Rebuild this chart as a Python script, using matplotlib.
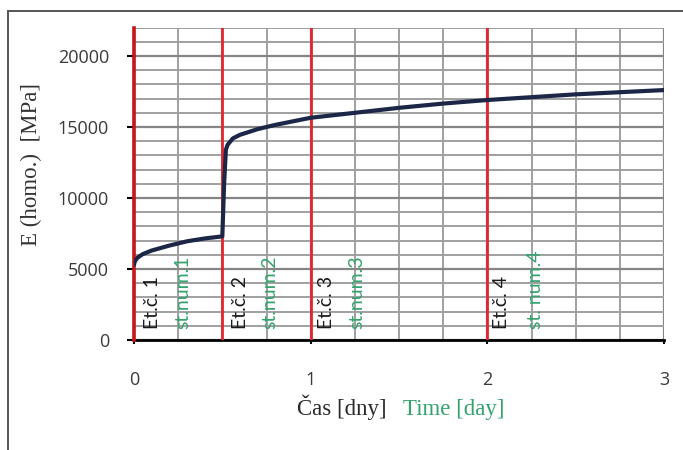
import matplotlib
matplotlib.use("Agg")
import matplotlib.pyplot as plt
from matplotlib.patches import Rectangle
from matplotlib.ticker import MultipleLocator

# Time (days) and homogenised modulus E (MPa)
time_days = [0.0, 0.005, 0.02, 0.05, 0.1, 0.2, 0.3, 0.4, 0.5,
             0.51, 0.52, 0.53, 0.56, 0.6, 0.7, 0.8, 1.0, 1.25, 1.5,
             1.75, 2.0, 2.25, 2.5, 2.75, 3.0]
modulus_mpa = [5300, 5550, 5800, 6050, 6300, 6650, 6950, 7150, 7300,
               11000, 13400, 13750, 14200, 14450, 14850, 15150, 15650, 16000, 16350,
               16650, 16900, 17100, 17300, 17450, 17600]

# Construction stages (red markers) and their labels
stage_times = [0.0, 0.5, 1.0, 2.0]
stage_labels = ["Et.č. 1", "Et.č. 2", "Et.č. 3", "Et.č. 4"]
stage_label_x = [0.107, 0.60, 1.09, 2.08]
num_labels = ["st.num.1", "st.num.2", "st.num.3", "st. num.4"]
num_label_x = [0.277, 0.77, 1.26, 2.27]

x_ticks = [0, 1, 2, 3]
y_ticks = [0, 5000, 10000, 15000, 20000]

GREEN = "#33a36c"
RED = "#e3262b"

fig = plt.figure(figsize=(6.83, 4.5), dpi=100)
W, H = 683, 450

def fx(px):
    return px / W

def fy(py):
    return 1 - py / H

# outer frame
fig.patches.append(Rectangle((fx(8), fy(470)), 1.2, fy(11) - fy(470),
                             transform=fig.transFigure, fill=False,
                             edgecolor="#555555", linewidth=1.4))

ax = fig.add_axes([fx(134), fy(340), fx(664) - fx(134), fy(27.6) - fy(340)])
ax.set_xlim(0, 3)
ax.set_ylim(0, 22000)

# grid
ax.xaxis.set_minor_locator(MultipleLocator(0.25))
ax.yaxis.set_minor_locator(MultipleLocator(1000))
ax.grid(which="minor", axis="both", color="#a0a0a0", linewidth=1.4)
ax.grid(which="major", axis="both", color="#858585", linewidth=1.6)
ax.axhline(22000, color="#a0a0a0", lw=1.4)
ax.set_axisbelow(True)

for s in ["top", "right"]:
    ax.spines[s].set_visible(False)
ax.spines["bottom"].set_color("black")
ax.spines["bottom"].set_linewidth(2.0)
ax.spines["left"].set_color("black")
ax.spines["left"].set_linewidth(1.5)

ax.set_xticks(x_ticks)
ax.set_yticks(y_ticks)
ax.set_xticklabels([str(v) for v in x_ticks])
ax.set_yticklabels([str(v) for v in y_ticks])
ax.tick_params(axis="x", which="major", direction="out", length=3, width=1.5,
               pad=19, labelsize=13, labelcolor="#3a3a3a")
ax.tick_params(axis="y", which="major", direction="out", length=5, width=1.5,
               pad=13, labelsize=13, labelcolor="#3a3a3a")
ax.tick_params(which="minor", length=0)
for lab in ax.get_xticklabels() + ax.get_yticklabels():
    lab.set_family("Open Sans")

# stage lines
for t in stage_times:
    if t == 0:
        ax.axvline(t, color="#c8161d", lw=2.6, zorder=4, clip_on=False)
    else:
        ax.axvline(t, color=RED, lw=2.0, zorder=4)

# curve
ax.plot(time_days, modulus_mpa, color="#1c2748", lw=3.0,
        solid_joinstyle="round", solid_capstyle="round", zorder=5)

# stage annotations
for x, s in zip(stage_label_x, stage_labels):
    ax.text(x, 750, s, rotation=90, ha="center", va="bottom",
            fontsize=14, color="#1a1a1a", family="Lato", zorder=6)
for x, s in zip(num_label_x, num_labels):
    ax.text(x, 750, s, rotation=90, ha="center", va="bottom",
            fontsize=14, color=GREEN, family="Lato", zorder=6)

# axis titles
fig.text(fx(31), fy(164), "E (homo.)  [MPa]", rotation=90, ha="center",
         va="center", fontsize=16.5, family="Liberation Serif", color="#333333")
fig.text(fx(297), fy(415), "Čas [dny]", ha="left", va="baseline",
         fontsize=16.5, family="Liberation Serif", color="#2a2a2a")
fig.text(fx(403), fy(415), "Time [day]", ha="left", va="baseline",
         fontsize=16.5, family="Liberation Serif", color=GREEN)

fig.savefig("out.png", dpi=100)
